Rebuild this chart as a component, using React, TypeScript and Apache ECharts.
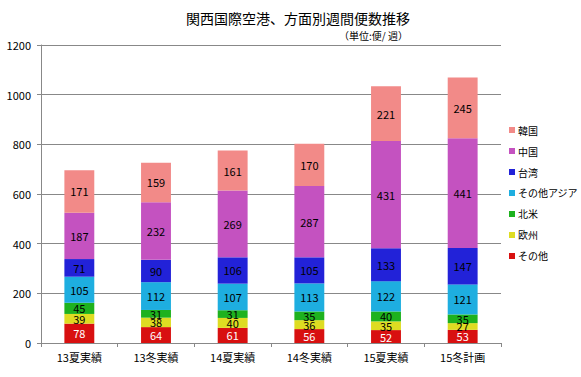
import React, { useEffect, useRef } from "react";
import * as echarts from "echarts";

const categories = ["13夏実績", "13冬実績", "14夏実績", "14冬実績", "15夏実績", "15冬計画"];
const sonota = [78, 64, 61, 56, 52, 53];
const oushu = [39, 38, 40, 36, 35, 27];
const hokubei = [45, 31, 31, 35, 40, 35];
const sonotaAsia = [105, 112, 107, 113, 122, 121];
const taiwan = [71, 90, 106, 105, 133, 147];
const chugoku = [187, 232, 269, 287, 431, 441];
const kankoku = [171, 159, 161, 170, 221, 245];
const legendOrder = ["韓国", "中国", "台湾", "その他アジア", "北米", "欧州", "その他"];

const FONT = "'Noto Sans CJK JP', 'Noto Sans', sans-serif";

export default function App() {
  const ref = useRef<HTMLDivElement>(null);
  useEffect(() => {
    if (!ref.current) return;
    const chart = echarts.init(ref.current, undefined, { renderer: "svg" });
    const mk = (name: string, data: number[], color: string, labelColor: string) => ({
      name,
      type: "bar",
      stack: "total",
      data,
      barWidth: "39%",
      itemStyle: { color },
      label: {
        show: true,
        position: "inside",
        color: labelColor,
        fontSize: 11,
        fontFamily: FONT,
      },
    });
    chart.setOption({
      animation: false,
      textStyle: { fontFamily: FONT },
      title: [
        {
          text: "関西国際空港、方面別週間便数推移",
          left: 293,
          textAlign: "center",
          top: 6,
          textStyle: { fontSize: 14, fontWeight: "normal", color: "#000", fontFamily: FONT },
        },
        {
          text: "（単位:便/ 週）",
          left: 334,
          top: 25,
          textStyle: { fontSize: 10, fontWeight: "normal", color: "#000", fontFamily: FONT },
        },
      ],
      legend: {
        data: legendOrder,
        orient: "vertical",
        left: 504,
        top: 120,
        icon: "rect",
        itemWidth: 6,
        itemHeight: 6,
        itemGap: 11,
        textStyle: { fontSize: 10, color: "#000", fontFamily: FONT, padding: [0, 0, 0, -2] },
      },
      grid: { left: 41, right: 80, top: 45, bottom: 34 },
      xAxis: {
        type: "category",
        data: categories,
        axisLine: { lineStyle: { color: "#888" } },
        axisTick: { show: true, alignWithLabel: false, length: 4, lineStyle: { color: "#888" } },
        axisLabel: { color: "#000", fontSize: 11, margin: 8 },
      },
      yAxis: {
        type: "value",
        min: 0,
        max: 1200,
        interval: 200,
        axisLine: { show: true, lineStyle: { color: "#888" } },
        axisTick: { show: true, length: 4, lineStyle: { color: "#888" } },
        splitLine: { lineStyle: { color: "#888" } },
        axisLabel: { color: "#000", fontSize: 11, margin: 10, formatter: (v: number) => String(v) },
      },
      series: [
        mk("その他", sonota, "#D81010", "#fff"),
        mk("欧州", oushu, "#DEDC22", "#000"),
        mk("北米", hokubei, "#1EB21E", "#000"),
        mk("その他アジア", sonotaAsia, "#1EAEE0", "#000"),
        mk("台湾", taiwan, "#2222D8", "#000"),
        mk("中国", chugoku, "#C452C0", "#000"),
        mk("韓国", kankoku, "#F28A88", "#000"),
      ],
    });
    return () => chart.dispose();
  }, []);
  return <div ref={ref} style={{ width: 581, height: 377, position: "absolute", left: 0, top: 0 }} />;
}
